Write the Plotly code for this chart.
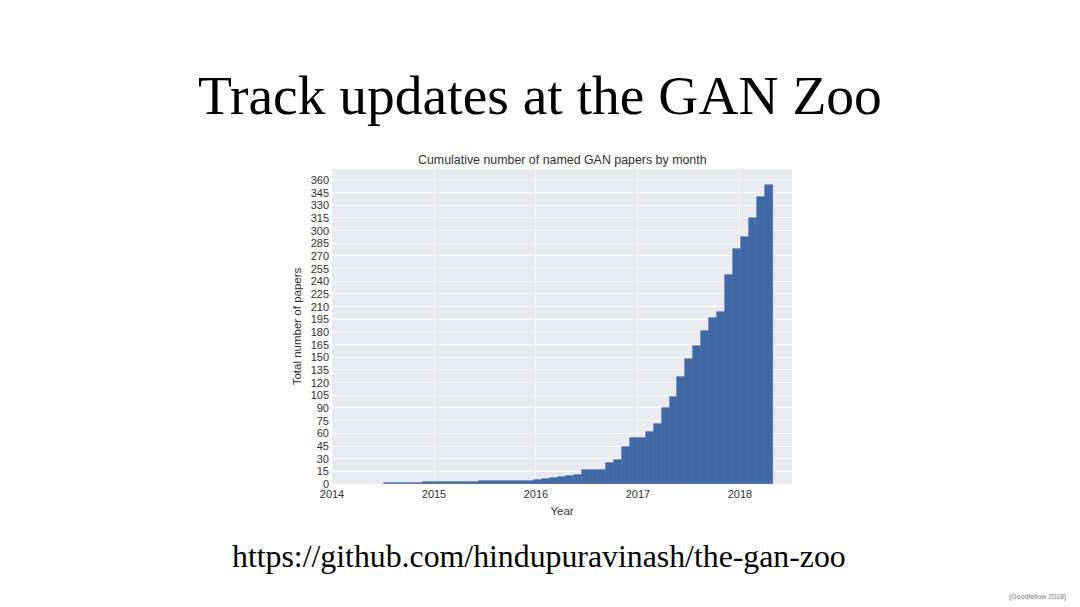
import numpy as np
import plotly.graph_objects as go

# ---- data ----
bin_start = 2014.505          # left edge of the first monthly bin (fractional year)
bin_width = 0.0779            # bin width in years
cumulative_papers = [
    1, 1, 1, 1, 1,
    2, 2, 2, 2, 2, 2, 2,
    3, 3, 3, 3, 3, 3,
    4, 5, 6, 7, 8, 9, 11,
    16, 17, 17, 25, 28, 44, 54, 54,
    62, 71, 90, 103, 127, 148, 164, 181,
    196, 204, 247, 278, 293, 315, 340, 354,
]
year_ticks = [2014, 2015, 2016, 2017, 2018]
year_labels = ["2014", "2015", "2016", "2017", "2018"]
count_ticks = list(range(0, 361, 15))

slide_title = "Track updates at the GAN Zoo"
chart_title = "Cumulative number of named GAN papers by month"
url_text = "https://github.com/hindupuravinash/the-gan-zoo"
credit_text = "(Goodfellow 2018)"

# ---- geometry (page pixels; the page body adds an 8px offset) ----
W, H = 1080, 607
OFF = 8
PL, PR, PT, PB = 332, 792, 169, 484   # plot area in page pixels

bin_lefts = bin_start + bin_width * np.arange(len(cumulative_papers))

BLUE = "#4169A8"
SANS = "Liberation Sans, Arial, sans-serif"
SERIF = "Liberation Serif, Times New Roman, serif"
TXT = "#333333"


def paper(xp, yp):
    return (xp - PL) / (PR - PL), (PB - yp) / (PB - PT)


fig = go.Figure()
fig.add_trace(go.Bar(
    x=bin_lefts,
    y=cumulative_papers,
    width=bin_width,
    offset=0,
    marker=dict(color=BLUE, line=dict(color=BLUE, width=0.6)),
    hoverinfo="x+y",
))

fig.update_layout(
    width=W, height=H,
    margin=dict(l=PL - OFF, r=W - PR + OFF, t=PT - OFF, b=H - PB + OFF, pad=0),
    paper_bgcolor="white",
    plot_bgcolor="#EAEAF2",
    showlegend=False,
    bargap=0,
    font=dict(family=SANS, color=TXT, size=11),
    xaxis=dict(
        range=[2014, 2018.51],
        tickvals=year_ticks, ticktext=year_labels,
        showgrid=True, gridcolor="white", gridwidth=1.3,
        zeroline=False, showline=False, ticks="",
        ticklabelstandoff=2,
        tickfont=dict(size=11, color=TXT, family=SANS),
        title=dict(text="Year", font=dict(size=11.5, color=TXT, family=SANS), standoff=7),
    ),
    yaxis=dict(
        range=[0, 373],
        tickvals=count_ticks,
        showgrid=True, gridcolor="white", gridwidth=1.3,
        zeroline=False, showline=False, ticks="",
        ticklabelstandoff=2,
        tickfont=dict(size=11, color=TXT, family=SANS),
        title=dict(text="Total number of papers", font=dict(size=11.5, color=TXT, family=SANS), standoff=6),
    ),
)

annotations = []
x, y = paper(540, 96)
annotations.append(dict(text=slide_title, x=x, y=y, xref="paper", yref="paper",
                        xanchor="center", yanchor="middle", showarrow=False,
                        font=dict(family=SERIF, size=55.5, color="black")))
x, y = paper(562, 160)
annotations.append(dict(text=chart_title, x=x, y=y, xref="paper", yref="paper",
                        xanchor="center", yanchor="middle", showarrow=False,
                        font=dict(family=SANS, size=12.4, color=TXT)))
x, y = paper(539, 556)
annotations.append(dict(text=url_text, x=x, y=y, xref="paper", yref="paper",
                        xanchor="center", yanchor="middle", showarrow=False,
                        font=dict(family=SERIF, size=31.8, color="black")))
x, y = paper(1068, 597)
annotations.append(dict(text=credit_text, x=x, y=y, xref="paper", yref="paper",
                        xanchor="right", yanchor="middle", showarrow=False,
                        font=dict(family=SANS, size=7, color="#777777")))
fig.update_layout(annotations=annotations)

fig.write_html("out.html")
